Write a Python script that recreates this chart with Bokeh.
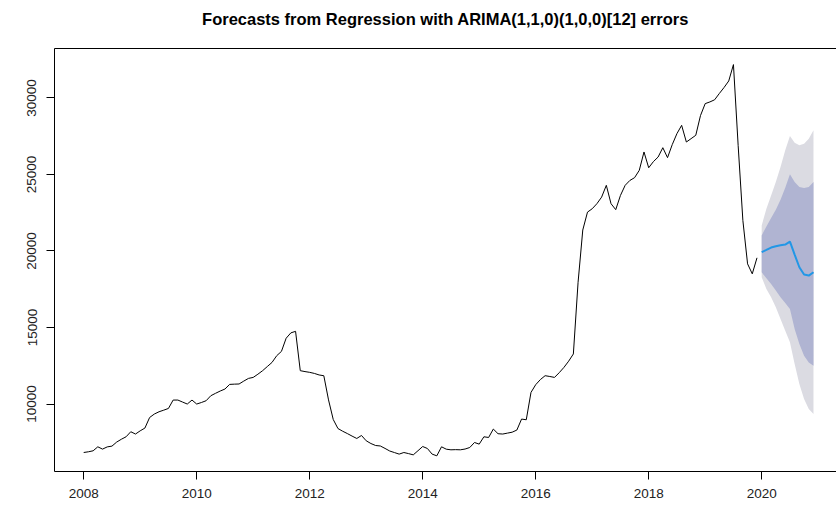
from bokeh.plotting import figure
from bokeh.models import Range1d, FixedTicker, LinearAxis
from bokeh.embed import file_html
from bokeh.resources import INLINE

# Monthly observed series, Jan 2008 .. Dec 2019
start_year = 2008
observed = [
    6833, 6880, 6944, 7206, 7055, 7200, 7250, 7513, 7700, 7860, 8190, 8040,          # 2008
    8250, 8430, 9120, 9346, 9496, 9600, 9712, 10260, 10260, 10130, 10000, 10260,    # 2009
    10000, 10100, 10216, 10543, 10700, 10850, 10980, 11283, 11300, 11310, 11500, 11675,  # 2010
    11740, 11950, 12180, 12450, 12720, 13160, 13440, 14300, 14650, 14750, 12180, 12120,  # 2011
    12070, 12000, 11900, 11850, 10270, 8990, 8400, 8225, 8070, 7905, 7750, 7946,    # 2012
    7600, 7420, 7290, 7260, 7100, 6930, 6830, 6728, 6833, 6760, 6680, 6950,         # 2013
    7225, 7095, 6728, 6617, 7206, 7050, 7010, 7020, 7010, 7060, 7160, 7487,         # 2014
    7380, 7860, 7815, 8364, 8060, 8040, 8100, 8160, 8300, 9018, 8973, 10760,        # 2015
    11263, 11600, 11852, 11800, 11740, 12050, 12395, 12800, 13272, 17950, 21370, 22540,  # 2016
    22760, 23090, 23520, 24290, 23090, 22700, 23630, 24290, 24610, 24790, 25270, 26470,  # 2017
    25440, 25840, 26140, 26750, 26100, 26950, 27670, 28210, 27120, 27340, 27560, 28850,  # 2018
    29630, 29740, 29880, 30290, 30680, 31110, 32180, 26900, 22000, 19160, 18507, 19554,  # 2019
]

# Twelve-month forecast, Jan 2020 .. Dec 2020
forecast_start = 2020
fc_mean = [19920, 20072, 20225, 20313, 20378, 20422, 20618, 19768, 18939, 18459, 18394, 18612]
lo80 = [18612, 18219, 17848, 17412, 16976, 16605, 16212, 14903, 13921, 13158, 12721, 12503]
hi80 = [21015, 21604, 22150, 22695, 23349, 24135, 25007, 24506, 24179, 24113, 24179, 24506]
lo95 = [18285, 17521, 16976, 16321, 15558, 14794, 14031, 12613, 11304, 10323, 9669, 9342]
hi95 = [21670, 22760, 23633, 24505, 25487, 26578, 27516, 27080, 26905, 27014, 27341, 27887]

x_ticks = [2008, 2010, 2012, 2014, 2016, 2018, 2020]
y_ticks = [10000, 15000, 20000, 25000, 30000]

t_obs = [start_year + i / 12 for i in range(len(observed))]
t_fc = [forecast_start + i / 12 for i in range(len(fc_mean))]

FONT = "Liberation Sans"

# the trailing blank line leaves a gap between the title and the plotting box
p = figure(
    width=836, height=505,
    output_backend="svg", toolbar_location=None,
    x_range=Range1d(2007.4833, 2021.324),
    y_range=Range1d(5592, 33231),
    min_border_left=54, min_border_right=0,
    min_border_top=48, min_border_bottom=34,
    title="Forecasts from Regression with ARIMA(1,1,0)(1,0,0)[12] errors\n",
)
p.background_fill_color = "white"
p.border_fill_color = "white"
p.outline_line_color = None
p.xgrid.visible = False
p.ygrid.visible = False

p.title.text_font = FONT
p.title.text_font_size = "16.5px"
p.title.text_font_style = "bold"
p.title.text_color = "black"
p.title.align = "center"
p.title.vertical_align = "top"
p.title.standoff = 2

# prediction intervals: 95% behind 80%
p.varea(x=t_fc, y1=lo95, y2=hi95, fill_color="#DBDBE2", fill_alpha=1.0)
p.varea(x=t_fc, y1=lo80, y2=hi80, fill_color="#B0B4D2", fill_alpha=1.0)

p.line(t_obs, observed, line_color="black", line_width=1)
p.line(t_fc, fc_mean, line_color="#2297E6", line_width=2)

for ax in (p.xaxis[0], p.yaxis[0]):
    ax.axis_line_color = "black"
    ax.axis_line_width = 1
    ax.major_tick_line_color = "black"
    ax.major_tick_out = 8
    ax.major_tick_in = 0
    ax.minor_tick_line_color = None
    ax.major_label_text_font = FONT
    ax.major_label_text_font_size = "13.5px"
    ax.major_label_text_color = "#222222"

p.xaxis[0].ticker = FixedTicker(ticks=x_ticks)
p.xaxis[0].major_label_standoff = 9
p.yaxis[0].ticker = FixedTicker(ticks=y_ticks)
p.yaxis[0].major_label_orientation = "vertical"
p.yaxis[0].major_label_standoff = 10

# plain line along the top of the plotting box
top = LinearAxis(ticker=FixedTicker(ticks=[]), axis_line_color="black",
                 major_tick_line_color=None, minor_tick_line_color=None,
                 major_label_text_font_size="0px")
p.add_layout(top, "above")

open("out.html", "w").write(file_html(p, INLINE))
